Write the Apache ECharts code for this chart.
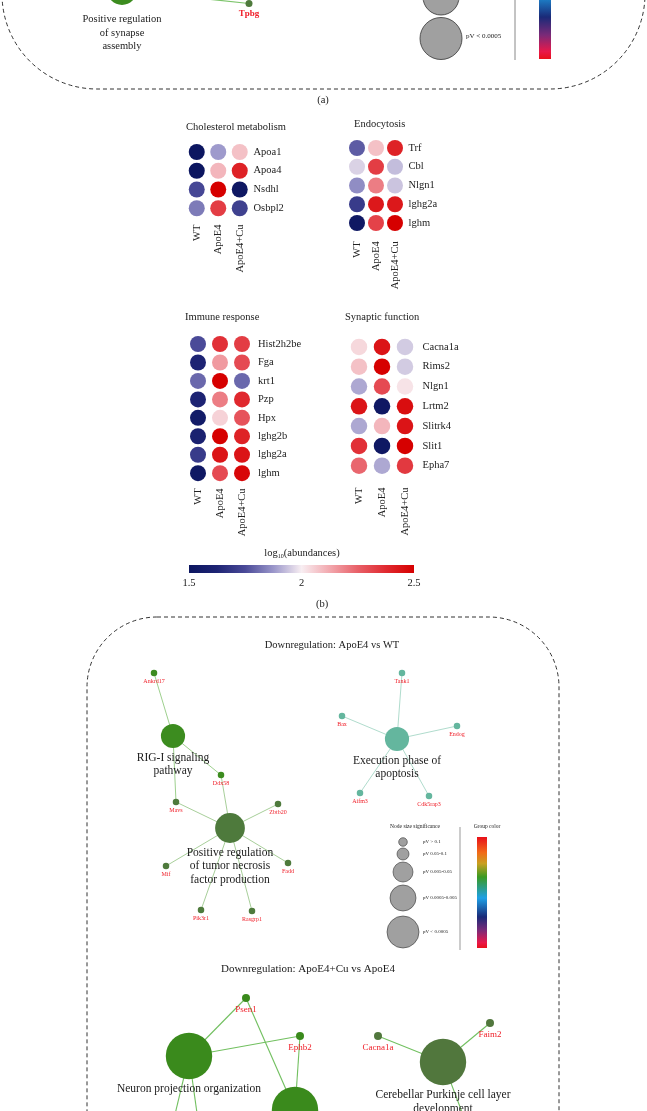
<!DOCTYPE html>
<html><head><meta charset="utf-8">
<script src="https://cdn.jsdelivr.net/npm/echarts@6/dist/echarts.min.js"></script>
<style>html,body{margin:0;padding:0;background:#fff}#c{width:647px;height:1111px}</style>
</head><body><div id="c"></div><script>
// ---------------- DATA ----------------
const groups = ['WT', 'ApoE4', 'ApoE4+Cu'];

const cholGenes = ['Apoa1', 'Apoa4', 'Nsdhl', 'Osbpl2'];
const cholValues = [[1.5, 1.88, 2.08], [1.5, 2.1, 2.4], [1.74, 2.5, 1.52], [1.83, 2.33, 1.72]];

const endoGenes = ['Trf', 'Cbl', 'Nlgn1', 'lghg2a', 'lghm'];
const endoValues = [[1.78, 2.08, 2.4], [1.96, 2.33, 1.93], [1.86, 2.2, 1.94], [1.7, 2.43, 2.43], [1.52, 2.32, 2.5]];

const immuneGenes = ['Hist2h2be', 'Fga', 'krt1', 'Pzp', 'Hpx', 'lghg2b', 'lghg2a', 'lghm'];
const immuneValues = [[1.75, 2.36, 2.33], [1.62, 2.15, 2.3], [1.8, 2.5, 1.8], [1.62, 2.2, 2.38],
  [1.55, 2.05, 2.28], [1.6, 2.5, 2.4], [1.7, 2.44, 2.44], [1.52, 2.3, 2.48]];

const synGenes = ['Cacna1a', 'Rims2', 'Nlgn1', 'Lrtm2', 'Slitrk4', 'Slit1', 'Epha7'];
const synValues = [[2.04, 2.44, 1.95], [2.08, 2.5, 1.95], [1.9, 2.3, 2.02], [2.44, 1.52, 2.46],
  [1.9, 2.1, 2.44], [2.36, 1.52, 2.5], [2.24, 1.9, 2.34]];

const abundanceTicks = [1.5, 2, 2.5];
const sigClasses = ['pV > 0.1', 'pV 0.05-0.1', 'pV 0.005-0.05', 'pV 0.0005-0.005', 'pV < 0.0005'];

// network (a) (partially visible) — layout coordinates
const netATerms = ['Positive regulation\nof synapse\nassembly'];
const netATermSig = [3];
const netATermGroup = [0];
const netATermLayout = [[122, -10]];
const netAGenes = ['Tpbg'];
const netAGeneGroup = [1];
const netAGeneLayout = [[249, 3.5]];
const netALinks = [['Tpbg', 0]];

// network (c) Downregulation: ApoE4 vs WT
const netC1Terms = ['RIG-I signaling\npathway', 'Positive regulation\nof tumor necrosis\nfactor production', 'Execution phase of\napoptosis'];
const netC1TermSig = [3, 4, 3];
const netC1TermGroup = [0, 1, 2];
const netC1TermLayout = [[86, 119], [143, 211], [310, 122]];
const netC1Genes = ['Ankrd17', 'Ddx58', 'Mavs', 'Zbtb20', 'Mif', 'Fadd', 'Pik3r1', 'Rasgrp1', 'Tank1', 'Bax', 'Endog', 'Aifm3', 'Cdk5rap3'];
const netC1GeneGroup = [0, 0, 1, 1, 1, 1, 1, 1, 2, 2, 2, 2, 2];
const netC1GeneLayout = [[67, 56], [134, 158], [89, 185], [191, 187], [79, 249], [201, 246], [114, 293], [165, 294],
  [315, 56], [255, 99], [370, 109], [273, 176], [342, 179]];
const netC1Links = [['Ankrd17', 0], ['Ddx58', 0], ['Mavs', 0], ['Ddx58', 1], ['Mavs', 1], ['Zbtb20', 1], ['Mif', 1],
  ['Fadd', 1], ['Pik3r1', 1], ['Rasgrp1', 1], ['Tank1', 2], ['Bax', 2], ['Endog', 2], ['Aifm3', 2], ['Cdk5rap3', 2]];

// network (c) Downregulation: ApoE4+Cu vs ApoE4
const netC2Terms = ['Neuron projection organization', 'Unlabelled term (below view)', 'Cerebellar Purkinje cell layer\ndevelopment'];
const netC2TermSig = [4, 4, 4];
const netC2TermGroup = [0, 0, 1];
const netC2TermLayout = [[102, 439], [208, 493], [356, 445]];
const netC2Genes = ['Psen1', 'Ephb2', 'Cacna1a', 'Faim2', 'gene-a', 'gene-b', 'gene-c'];
const netC2GeneGroup = [0, 0, 1, 1, 0, 0, 1];
const netC2GeneLayout = [[159, 381], [213, 419], [291, 419], [403, 406], [78, 539], [116, 539], [392, 540]];
const netC2Links = [['Psen1', 0], ['Ephb2', 0], ['Psen1', 1], ['Ephb2', 1], ['Cacna1a', 2], ['Faim2', 2],
  ['gene-a', 0], ['gene-b', 0], ['gene-c', 2]];

// ---------------- STYLE ----------------
const FONT = '"Liberation Serif", "DejaVu Serif", serif';
const heatColors = ['#0c1660', '#1e2474', '#4a4a98', '#9a96ca', '#f8eef2', '#f2a8ae', '#e86068', '#e02a30', '#d60000'];
const legendDiam = [8.6, 12, 20, 26, 32];
const groupColorStops = [[0, '#e8101a'], [0.14, '#f26a18'], [0.24, '#c8a020'], [0.36, '#3a9a22'], [0.55, '#1ea0e6'],
  [0.72, '#1a2a78'], [0.84, '#7a2a78'], [0.95, '#e8184a'], [1, '#e8101a']];

const chart = echarts.init(document.getElementById('c'), null, {renderer: 'canvas'});

function flat(values) {
  const out = [];
  values.forEach((row, r) => row.forEach((v, c) => out.push([c, r, v])));
  return out;
}
const hmGrids = [
  {left: 186, top: 142.6, width: 64.5, height: 75, genes: cholGenes, vals: cholValues, xm: 7, ym: 3, size: 16},
  {left: 347.5, top: 138.6, width: 57, height: 93.75, genes: endoGenes, vals: endoValues, xm: 9, ym: 4, size: 16},
  {left: 187, top: 334.8, width: 66, height: 147.6, genes: immuneGenes, vals: immuneValues, xm: 6, ym: 5, size: 16},
  {left: 347.5, top: 337, width: 69, height: 138.6, genes: synGenes, vals: synValues, xm: 12, ym: 6, size: 16.5}
];
const grid = [], xAxis = [], yAxis = [], series = [];
const axisLbl = {fontSize: 10.5, color: '#222', fontFamily: FONT};
hmGrids.forEach((g, i) => {
  grid.push({left: g.left, top: g.top, width: g.width, height: g.height});
  xAxis.push({type: 'category', gridIndex: i, data: groups, axisLine: {show: false}, axisTick: {show: false},
    splitLine: {show: false}, axisLabel: Object.assign({rotate: 90, margin: g.xm, interval: 0}, axisLbl)});
  yAxis.push({type: 'category', gridIndex: i, data: g.genes, inverse: true, position: 'right',
    axisLine: {show: false}, axisTick: {show: false}, splitLine: {show: false},
    axisLabel: Object.assign({margin: g.ym, interval: 0}, axisLbl)});
  series.push({type: 'scatter', xAxisIndex: i, yAxisIndex: i, symbolSize: g.size, data: flat(g.vals),
    itemStyle: {opacity: 1}, silent: true});
});

// hidden layout grids for networks
grid.push({left: 0, top: 0, width: 647, height: 89});            // index 4, panel (a)
xAxis.push({type: 'value', gridIndex: 4, min: 0, max: 647, show: false});
yAxis.push({type: 'value', gridIndex: 4, min: 0, max: 89, inverse: true, show: false});
grid.push({left: 87, top: 617, width: 472, height: 494});         // index 5, panel (c)
xAxis.push({type: 'value', gridIndex: 5, min: 0, max: 472, show: false});
yAxis.push({type: 'value', gridIndex: 5, min: 0, max: 494, inverse: true, show: false});

function graphSeries(o) {
  const data = [];
  o.terms.forEach((t, i) => data.push({
    name: t, value: o.termLayout[i], symbolSize: legendDiam[o.termSig[i]] * o.scale,
    itemStyle: {color: o.colors[o.termGroup[i]]},
    label: {show: !t.startsWith('Unlabelled'), position: 'bottom', distance: o.termDist, color: '#1a1a1a',
      fontSize: o.termFont, lineHeight: o.termLine, fontFamily: FONT, formatter: '{b}'}
  }));
  o.genes.forEach((g, i) => data.push({
    name: g, value: o.geneLayout[i], symbolSize: o.geneSize,
    itemStyle: {color: o.colors[o.geneGroup[i]]},
    label: {show: !g.startsWith('gene-'), position: 'bottom', distance: o.geneDist, color: '#f0202a',
      fontSize: o.geneFont, fontFamily: FONT, fontWeight: o.geneWeight || 'normal'}
  }));
  const links = o.links.map(l => ({source: l[0], target: o.terms[l[1]],
    lineStyle: {color: o.edgeColors[o.termGroup[l[1]]], width: o.edgeWidth, opacity: 1}}));
  return {type: 'graph', coordinateSystem: 'cartesian2d', xAxisIndex: o.gi, yAxisIndex: o.gi,
    data, links, silent: true, emphasis: {disabled: true}, z: 3};
}

series.push(graphSeries({gi: 4, terms: netATerms, termSig: netATermSig, termGroup: netATermGroup, termLayout: netATermLayout,
  genes: netAGenes, geneGroup: netAGeneGroup, geneLayout: netAGeneLayout, links: netALinks,
  colors: ['#3c8c1f', '#4e7a3c'], edgeColors: ['#7cc46a'], scale: 1.15, termDist: 8, termFont: 10.5, termLine: 13.5,
  geneSize: 7, geneDist: 2, geneFont: 9, geneWeight: 'bold', edgeWidth: 1.2}));
series.push(graphSeries({gi: 5, terms: netC1Terms, termSig: netC1TermSig, termGroup: netC1TermGroup, termLayout: netC1TermLayout,
  genes: netC1Genes, geneGroup: netC1GeneGroup, geneLayout: netC1GeneLayout, links: netC1Links,
  colors: ['#3c8c1f', '#4e7a3c', '#64b69e'], edgeColors: ['#9ed08e', '#a8cf9a', '#b0dccd'], scale: 0.93,
  termDist: 3, termFont: 11.5, termLine: 13.5, geneSize: 6.5, geneDist: 2, geneFont: 6, edgeWidth: 1}));
series.push(graphSeries({gi: 5, terms: netC2Terms, termSig: netC2TermSig, termGroup: netC2TermGroup, termLayout: netC2TermLayout,
  genes: netC2Genes, geneGroup: netC2GeneGroup, geneLayout: netC2GeneLayout, links: netC2Links,
  colors: ['#3a8a1c', '#51773d'], edgeColors: ['#72c060', '#72c060'], scale: 1.45,
  termDist: 3, termFont: 11.5, termLine: 14, geneSize: 8, geneDist: 3, geneFont: 9, edgeWidth: 1.1}));

// ---------------- GRAPHICS (frames, titles, legends) ----------------
const G = [];
function txt(x, y, text, size, opt) {
  G.push(Object.assign({type: 'text', x, y, silent: true, z: 10, style: Object.assign({text, fontSize: size, fontFamily: FONT,
    fill: '#1a1a1a', textAlign: 'center', textVerticalAlign: 'middle'}, (opt || {}).style || {})}, (opt || {}).el || {}));
}
// dashed frames
G.push({type: 'rect', shape: {x: 2, y: -300, width: 643, height: 389, r: 95}, style: {fill: 'none', stroke: '#333', lineWidth: 1, lineDash: [4, 3]}, silent: true});
G.push({type: 'rect', shape: {x: 87, y: 617, width: 472, height: 700, r: 70}, style: {fill: 'none', stroke: '#333', lineWidth: 1, lineDash: [4, 3]}, silent: true});

// panel (a) legend fragment
G.push({type: 'circle', shape: {cx: 441, cy: -3, r: 18}, style: {fill: '#a0a0a0', stroke: '#333', lineWidth: 0.8}, silent: true});
G.push({type: 'circle', shape: {cx: 441, cy: 38.5, r: 21}, style: {fill: '#a0a0a0', stroke: '#333', lineWidth: 0.8}, silent: true});
txt(466, -4, 'pV 0.0005-0.005', 7, {style: {textAlign: 'left'}});
txt(466, 36, 'pV < 0.0005', 7, {style: {textAlign: 'left'}});
G.push({type: 'line', shape: {x1: 515, y1: -100, x2: 515, y2: 60}, style: {stroke: '#888', lineWidth: 1}, silent: true});
G.push({type: 'rect', shape: {x: 539, y: -91, width: 12, height: 150},
  style: {fill: new echarts.graphic.LinearGradient(0, 0, 0, 1, groupColorStops.map(s => ({offset: s[0], color: s[1]})))}, silent: true});
txt(323, 100, '(a)', 10.5);

// panel (b) titles
txt(186, 127, 'Cholesterol metabolism', 10.5, {style: {textAlign: 'left'}});
txt(354, 124, 'Endocytosis', 10.5, {style: {textAlign: 'left'}});
txt(185, 317, 'Immune response', 10.5, {style: {textAlign: 'left'}});
txt(345, 317, 'Synaptic function', 10.5, {style: {textAlign: 'left'}});
// abundance colour bar
const barX = 189, barW = 225;
G.push({type: 'rect', shape: {x: barX, y: 565, width: barW, height: 8},
  style: {fill: new echarts.graphic.LinearGradient(0, 0, 1, 0, heatColors.map((c, i) => ({offset: i / (heatColors.length - 1), color: c})))}, silent: true});
abundanceTicks.forEach(t => txt(barX + (t - 1.5) / (2.5 - 1.5) * barW, 583, String(t), 10.5));
txt(302, 553, 'log{s|10}(abundances)', 10.5, {style: {rich: {s: {fontSize: 6, fontFamily: FONT, padding: [7, 0, 0, 0], fill: '#1a1a1a'}}}});
txt(322, 604, '(b)', 10.5);

// panel (c) titles
txt(332, 645, 'Downregulation: ApoE4 vs WT', 10.5);
txt(308, 969, 'Downregulation: ApoE4+Cu vs ApoE4', 11);
// panel (c) legend
txt(415, 827, 'Node size significance', 5.5);
const legY = [842, 854, 872, 898, 932];
sigClasses.forEach((s, i) => {
  G.push({type: 'circle', shape: {cx: 403, cy: legY[i], r: legendDiam[i] / 2}, style: {fill: '#a0a0a0', stroke: '#333', lineWidth: 0.6}, silent: true});
  txt(423, legY[i], s, 5, {style: {textAlign: 'left'}});
});
G.push({type: 'line', shape: {x1: 460, y1: 827, x2: 460, y2: 950}, style: {stroke: '#999', lineWidth: 1}, silent: true});
txt(487, 827, 'Group color', 5.5);
G.push({type: 'rect', shape: {x: 477, y: 837, width: 10, height: 111},
  style: {fill: new echarts.graphic.LinearGradient(0, 0, 0, 1, groupColorStops.map(s => ({offset: s[0], color: s[1]})))}, silent: true});

chart.setOption({
  animation: false,
  backgroundColor: '#fff',
  textStyle: {fontFamily: FONT},
  visualMap: {type: 'continuous', show: false, min: 1.5, max: 2.5, dimension: 2, seriesIndex: [0, 1, 2, 3], inRange: {color: heatColors}},
  grid, xAxis, yAxis, series,
  graphic: G
});
</script></body></html>
